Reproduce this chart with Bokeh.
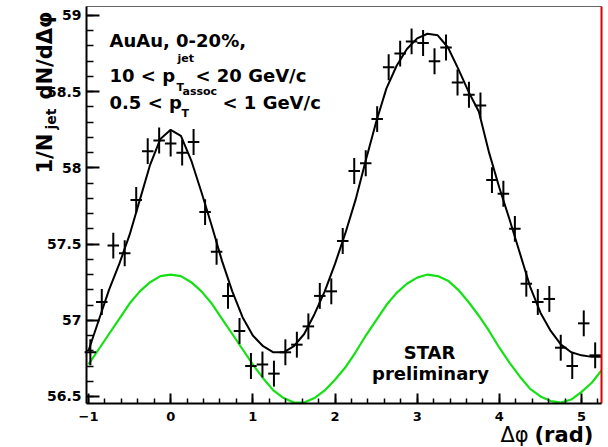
from bokeh.plotting import figure
from bokeh.models import Range1d, SingleIntervalTicker, NumeralTickFormatter, Label, ColumnDataSource
from bokeh.embed import file_html
from bokeh.resources import INLINE

# ---- data ----
phi = [-0.977, -0.838, -0.698, -0.559, -0.419, -0.279, -0.140, 0.000, 0.140, 0.279,
       0.419, 0.559, 0.698, 0.838, 0.977, 1.117, 1.257, 1.396, 1.536, 1.676,
       1.815, 1.955, 2.094, 2.234, 2.374, 2.513, 2.653, 2.793, 2.932, 3.072,
       3.211, 3.351, 3.491, 3.630, 3.770, 3.910, 4.049, 4.189, 4.328, 4.468,
       4.608, 4.747, 4.887, 5.027, 5.166]
dndphi = [56.79, 57.12, 57.49, 57.44, 57.79, 58.11, 58.18, 58.16, 58.10, 58.17,
          57.71, 57.45, 57.16, 56.93, 56.70, 56.71, 56.65, 56.79, 56.84, 56.96,
          57.16, 57.19, 57.52, 57.98, 58.03, 58.32, 58.66, 58.75, 58.83, 58.82,
          58.70, 58.79, 58.56, 58.48, 58.41, 57.92, 57.83, 57.60, 57.24, 57.12,
          57.14, 56.82, 56.70, 56.98, 56.77]
dndphi_err = [0.085, 0.085, 0.085, 0.085, 0.085, 0.085, 0.085, 0.085, 0.085, 0.085,
              0.085, 0.085, 0.085, 0.085, 0.085, 0.085, 0.085, 0.085, 0.085, 0.085,
              0.085, 0.085, 0.085, 0.085, 0.085, 0.085, 0.085, 0.085, 0.085, 0.085,
              0.085, 0.085, 0.085, 0.085, 0.085, 0.085, 0.085, 0.085, 0.085, 0.085,
              0.085, 0.085, 0.085, 0.085, 0.085]
bin_half = 0.07

curve_phi = [-1.0, -0.875, -0.75, -0.625, -0.5, -0.375, -0.25, -0.125, 0.0, 0.125,
             0.25, 0.375, 0.5, 0.625, 0.75, 0.875, 1.0, 1.125, 1.25, 1.375,
             1.5, 1.625, 1.75, 1.875, 2.0, 2.125, 2.25, 2.375, 2.5, 2.625,
             2.75, 2.875, 3.0, 3.125, 3.25, 3.375, 3.5, 3.625, 3.75, 3.875,
             4.0, 4.125, 4.25, 4.375, 4.5, 4.625, 4.75, 4.875, 5.0, 5.125, 5.24]
fit_val = [56.80, 57.00, 57.20, 57.37, 57.56, 57.79, 58.02, 58.19, 58.25, 58.21,
           58.05, 57.84, 57.62, 57.39, 57.19, 57.02, 56.90, 56.83, 56.79, 56.79,
           56.83, 56.91, 57.04, 57.19, 57.37, 57.57, 57.79, 58.05, 58.30, 58.52,
           58.67, 58.78, 58.85, 58.88, 58.87, 58.79, 58.65, 58.50, 58.37, 58.10,
           57.87, 57.66, 57.44, 57.22, 57.05, 56.93, 56.84, 56.79, 56.77, 56.76, 56.76]
bkg_val = [56.71, 56.81, 56.91, 57.01, 57.11, 57.19, 57.25, 57.29, 57.30, 57.29,
           57.25, 57.19, 57.11, 57.01, 56.91, 56.81, 56.71, 56.62, 56.54, 56.49,
           56.46, 56.46, 56.49, 56.54, 56.61, 56.69, 56.79, 56.90, 57.00, 57.10,
           57.18, 57.24, 57.28, 57.30, 57.29, 57.26, 57.20, 57.12, 57.03, 56.93,
           56.82, 56.72, 56.63, 56.55, 56.50, 56.47, 56.46, 56.48, 56.53, 56.59, 56.67]

x_tick_interval = 1
y_tick_interval = 0.5

# ---- geometry: the plotting frame fills the whole canvas; axes sit at fixed data locations ----
W, H = 608, 447
X0, X1 = -1.024, 5.243          # visible axis box (data units)
Y0, Y1 = 56.454, 59.059
PX_L, PX_R, PX_T, PX_B = 86, 601, 6, 403
sx = (PX_R - PX_L) / (X1 - X0)
sy = (PX_B - PX_T) / (Y1 - Y0)
xr = Range1d(X0 - PX_L / sx, X1 + (W - PX_R) / sx)
yr = Range1d(Y0 - (H - PX_B) / sy, Y1 + PX_T / sy)

p = figure(width=W, height=H, x_range=xr, y_range=yr,
           output_backend="svg", toolbar_location=None, min_border=0)
p.background_fill_color = "white"
p.border_fill_color = "white"
p.outline_line_color = None
p.xgrid.visible = False
p.ygrid.visible = False

src = ColumnDataSource(dict(
    x=phi, y=dndphi,
    ylo=[v - e for v, e in zip(dndphi, dndphi_err)],
    yhi=[v + e for v, e in zip(dndphi, dndphi_err)],
    xlo=[x - bin_half for x in phi],
    xhi=[x + bin_half for x in phi],
))

p.line(curve_phi, bkg_val, line_color="#14e014", line_width=2.2)
p.line(curve_phi, fit_val, line_color="black", line_width=2)
p.segment(x0="x", y0="ylo", x1="x", y1="yhi", source=src, line_color="black", line_width=2)
p.segment(x0="xlo", y0="y", x1="xhi", y1="y", source=src, line_color="black", line_width=2)

# frame: top (grey) and right (red) borders
p.segment(x0=[X0], y0=[Y1], x1=[X1], y1=[Y1], line_color="#666666", line_width=1)
p.segment(x0=[X1], y0=[Y0], x1=[X1], y1=[Y1], line_color="#e00000", line_width=2)

# axes, pinned at the box edges
p.xaxis.fixed_location = Y0
p.yaxis.fixed_location = X0
p.xaxis.bounds = (X0, X1)
p.yaxis.bounds = (Y0, Y1)
for ax in (p.xaxis[0], p.yaxis[0]):
    ax.axis_line_width = 2
    ax.axis_line_color = "black"
    ax.major_tick_line_width = 2
    ax.minor_tick_line_width = 1.5
    ax.major_tick_out = 0
    ax.minor_tick_out = 0
    ax.major_label_text_font = "DejaVu Sans"
    ax.major_label_text_font_style = "bold"
    ax.major_label_text_color = "black"

p.xaxis.ticker = SingleIntervalTicker(interval=x_tick_interval, num_minor_ticks=5)
p.xaxis.major_tick_in = 10
p.xaxis.minor_tick_in = 5
p.xaxis.major_label_text_font_size = "13px"
p.xaxis.major_label_standoff = 8

p.yaxis.ticker = SingleIntervalTicker(interval=y_tick_interval, num_minor_ticks=5)
p.yaxis.formatter = NumeralTickFormatter(format="0.[0]")
p.yaxis.major_tick_in = 13
p.yaxis.minor_tick_in = 7
p.yaxis.major_label_text_font_size = "14px"
p.yaxis.major_label_standoff = 5


def lab(text, cx, cy, size, bold=True, align="left", angle=0.0):
    p.add_layout(Label(x=cx, y=H - cy, x_units="screen", y_units="screen",
                       text=text, text_font="DejaVu Sans", text_font_size=f"{size}px",
                       text_font_style="bold" if bold else "normal",
                       text_align=align, text_baseline="alphabetic",
                       angle=angle, text_color="black"))


# text block
lab("AuAu, 0-20%,", 109, 40, 18)
lab("10 < p", 109, 75, 18)
lab("jet", 177, 58, 11)
lab("T", 176, 87, 11)
lab("< 20 GeV/c", 195, 75, 18)
lab("0.5 < p", 109, 102, 18)
lab("assoc", 182, 91, 11)
lab("T", 181, 113, 11)
lab("< 1 GeV/c", 222, 102, 18)

lab("STAR", 429, 352, 18, align="center")
lab("preliminary", 430, 373, 18, align="center")

# axis titles
lab("\u0394\u03c6", 500, 434, 21, bold=False)
lab("(rad)", 534, 434, 21)

ANG = 1.5707963
lab("1/N", 44, 173, 21, angle=ANG)
lab("jet", 50, 129, 14, angle=ANG)
lab("dN/d\u0394\u03c6", 44, 99, 21, angle=ANG)

open("out.html", "w").write(file_html(p, INLINE))
